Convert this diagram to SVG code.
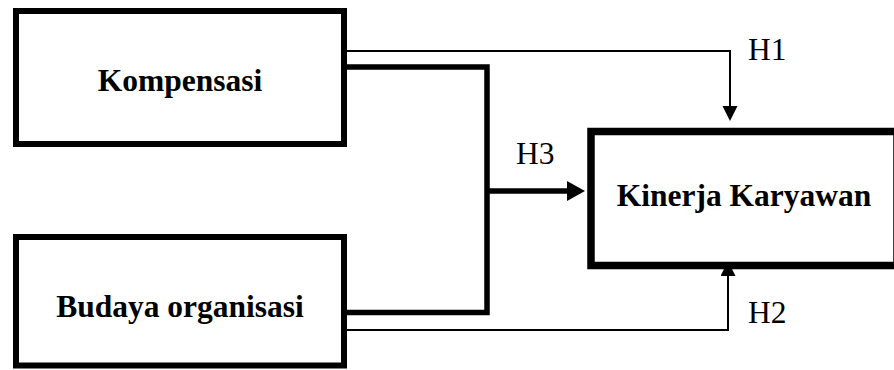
<svg xmlns="http://www.w3.org/2000/svg" width="894" height="370" viewBox="0 0 894 370">
  <style>
    .box { fill: #ffffff; stroke: #000000; stroke-width: 6; }
    .box-main { fill: #ffffff; stroke: #000000; stroke-width: 7.5; }
    .label { font-family: "Liberation Serif", "Times New Roman", serif; font-size: 31.5px; font-weight: bold; fill: #000000; text-anchor: middle; }
    .hyp { font-family: "Liberation Serif", "Times New Roman", serif; font-size: 31.5px; fill: #000000; }
    .thin { fill: none; stroke: #000000; stroke-width: 2; stroke-linejoin: miter; }
    .thick { fill: none; stroke: #000000; stroke-width: 5.5; stroke-linejoin: miter; }
  </style>
  <defs>
    <marker id="head-small" markerUnits="userSpaceOnUse" markerWidth="16" markerHeight="16" refX="1" refY="7.5" orient="auto">
      <path d="M0,0 L15,7.5 L0,15 Z" fill="#000000"/>
    </marker>
    <marker id="head-large" markerUnits="userSpaceOnUse" markerWidth="19" markerHeight="21" refX="1" refY="10" orient="auto">
      <path d="M0,0 L18,10 L0,20 Z" fill="#000000"/>
    </marker>
  </defs>

  <rect width="894" height="370" fill="#ffffff"/>

  <!-- connectors -->
  <g id="connectors">
    <!-- H1: Kompensasi -> Kinerja Karyawan -->
    <polyline class="thin" points="347,51 730,51 730,107" marker-end="url(#head-small)"/>
    <!-- H2: Budaya organisasi -> Kinerja Karyawan -->
    <polyline class="thin" points="347,330 728,330 728,275" marker-end="url(#head-small)"/>
    <!-- H3: joint path of both variables -->
    <polyline class="thick" points="347,67 487,67 487,312.5 347,312.5"/>
    <line class="thick" x1="487" y1="191" x2="568" y2="191" marker-end="url(#head-large)"/>
    <text class="hyp" x="748" y="59.5">H1</text>
    <text class="hyp" x="748" y="322.5">H2</text>
    <text class="hyp" x="516" y="164">H3</text>
  </g>

  <!-- nodes -->
  <g id="kompensasi">
    <rect class="box" x="16" y="11" width="328" height="133"/>
    <text class="label" x="180" y="91">Kompensasi</text>
  </g>
  <g id="budaya-organisasi">
    <rect class="box" x="16" y="237" width="328" height="128.5"/>
    <text class="label" x="180" y="317">Budaya organisasi</text>
  </g>
  <g id="kinerja-karyawan">
    <rect class="box-main" x="591" y="131.5" width="306" height="134"/>
    <text class="label" x="744" y="206">Kinerja Karyawan</text>
  </g>
</svg>
